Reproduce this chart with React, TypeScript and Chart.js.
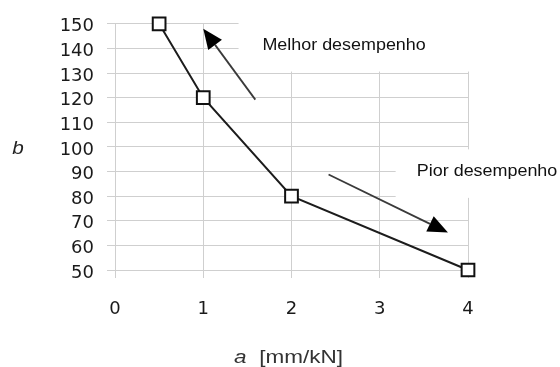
import React, { useEffect, useRef } from 'react';
import { Chart, registerables } from 'chart.js';

Chart.register(...registerables);

// ---- data ----
const xValues = [0.5, 1, 2, 4];
const yValues = [150, 120, 80, 50];
const xMin = 0;
const xMax = 4;
const xStep = 1;
const yMin = 50;
const yMax = 150;
const yStep = 10;

const yTitle = 'b';
const xTitleVar = 'a';
const xTitleUnit = '  [mm/kN]';
const labelBetter = 'Melhor desempenho';
const labelWorse = 'Pior desempenho';

// annotation anchors in data units
const arrowBetter = { from: [1.59, 119.2], to: [1.0, 148] };
const arrowWorse = { from: [2.42, 88.8], to: [3.773, 65.2] };
const textBetterAt = [1.67, 139.2];
const textWorseAt = [3.42, 88];
const boxBetter = { x0: 1.4, yTop: null as number | null, yBottom: 130.6 };
const boxWorse = { x0: 3.18, yTop: 99 as number | null, yBottom: 79.3 };

const annotPlugin = {
  id: 'annot',
  beforeDatasetsDraw(chart: any) {
    const { ctx, width } = chart;
    const xs = chart.scales.x;
    const ys = chart.scales.y;
    ctx.save();
    ctx.fillStyle = '#ffffff';
    for (const b of [boxBetter, boxWorse]) {
      const left = xs.getPixelForValue(b.x0);
      const top = b.yTop == null ? 0 : ys.getPixelForValue(b.yTop);
      const bottom = ys.getPixelForValue(b.yBottom);
      ctx.fillRect(left, top, width - left, bottom - top);
    }
    ctx.restore();
  },
  afterDatasetsDraw(chart: any) {
    const { ctx } = chart;
    const xs = chart.scales.x;
    const ys = chart.scales.y;
    const px = (v: number) => xs.getPixelForValue(v);
    const py = (v: number) => ys.getPixelForValue(v);

    const drawArrow = (a: { from: number[]; to: number[] }) => {
      const x1 = px(a.from[0]);
      const y1 = py(a.from[1]);
      const x2 = px(a.to[0]);
      const y2 = py(a.to[1]);
      const ang = Math.atan2(y2 - y1, x2 - x1);
      const len = 20;
      const hw = 8.5;
      const bx = x2 - len * Math.cos(ang);
      const by = y2 - len * Math.sin(ang);
      ctx.save();
      ctx.strokeStyle = '#3a3a3a';
      ctx.lineWidth = 1.8;
      ctx.beginPath();
      ctx.moveTo(x1, y1);
      ctx.lineTo(bx, by);
      ctx.stroke();
      ctx.fillStyle = '#000000';
      ctx.beginPath();
      ctx.moveTo(x2, y2);
      ctx.lineTo(bx + hw * Math.sin(ang), by - hw * Math.cos(ang));
      ctx.lineTo(bx - hw * Math.sin(ang), by + hw * Math.cos(ang));
      ctx.closePath();
      ctx.fill();
      ctx.restore();
    };
    drawArrow(arrowBetter);
    drawArrow(arrowWorse);

    const drawText = (t: string, x: number, y: number, font: string, sx: number) => {
      ctx.save();
      ctx.font = font;
      ctx.fillStyle = '#111111';
      ctx.textBaseline = 'alphabetic';
      ctx.textAlign = 'left';
      ctx.translate(x, y);
      ctx.scale(sx, 1);
      ctx.fillText(t, 0, 0);
      ctx.restore();
    };
    const annFont = '16px "Liberation Sans", Arial, sans-serif';
    drawText(labelBetter, px(textBetterAt[0]), py(textBetterAt[1]), annFont, 1.12);
    drawText(labelWorse, px(textWorseAt[0]), py(textWorseAt[1]), annFont, 1.12);

    // axis titles
    ctx.save();
    ctx.fillStyle = '#222222';
    ctx.textBaseline = 'middle';
    ctx.textAlign = 'center';
    ctx.font = 'italic 18px "Liberation Sans", Arial, sans-serif';
    ctx.translate(18, (chart.chartArea.top + chart.chartArea.bottom) / 2 + 2);
    ctx.scale(1.15, 1);
    ctx.fillText(yTitle, 0, 0);
    ctx.restore();

    ctx.save();
    ctx.fillStyle = '#333333';
    ctx.textBaseline = 'alphabetic';
    ctx.textAlign = 'left';
    const italicFont = 'italic 18px "Liberation Sans", Arial, sans-serif';
    const normalFont = '18px "Liberation Sans", Arial, sans-serif';
    ctx.font = italicFont;
    const w1 = ctx.measureText(xTitleVar).width;
    ctx.font = normalFont;
    const w2 = ctx.measureText(xTitleUnit).width;
    const sx = 1.25;
    const cx = (chart.chartArea.left + chart.chartArea.right) / 2;
    ctx.translate(cx - ((w1 + w2) * sx) / 2 - 3, chart.height - 4);
    ctx.scale(sx, 1);
    ctx.font = italicFont;
    ctx.fillText(xTitleVar, 0, 0);
    ctx.font = normalFont;
    ctx.fillText(xTitleUnit, w1, 0);
    ctx.restore();
  },
};

export default function App() {
  const canvasRef = useRef<HTMLCanvasElement | null>(null);

  useEffect(() => {
    document.body.style.margin = '0';
    const canvas = canvasRef.current;
    if (!canvas) return;
    const tickFont = { family: '"DejaVu Sans", sans-serif', size: 18 };
    const chart = new Chart(canvas, {
      type: 'line',
      data: {
        datasets: [
          {
            data: xValues.map((x, i) => ({ x, y: yValues[i] })),
            borderColor: '#1c1c1c',
            borderWidth: 2,
            tension: 0,
            pointStyle: 'rect',
            pointRadius: 9,
            pointBackgroundColor: '#ffffff',
            pointBorderColor: '#111111',
            pointBorderWidth: 2,
            clip: false as any,
          },
        ],
      },
      options: {
        responsive: false,
        animation: false,
        layout: { padding: { top: 20, right: 92, left: 0, bottom: 0 } },
        plugins: {
          legend: { display: false },
          tooltip: { enabled: false },
        },
        scales: {
          x: {
            type: 'linear',
            min: xMin,
            max: xMax,
            ticks: {
              stepSize: xStep,
              color: '#1a1a1a',
              font: tickFont,
              padding: 21,
            },
            grid: { color: '#cfcfcf', lineWidth: 1, tickLength: 8 },
            border: { display: false },
            afterFit: (s: any) => {
              s.height = 97;
            },
          },
          y: {
            type: 'linear',
            min: yMin,
            max: yMax,
            ticks: {
              stepSize: yStep,
              color: '#1a1a1a',
              font: tickFont,
              padding: 13,
              labelOffset: 3,
            },
            grid: { color: '#cfcfcf', lineWidth: 1, tickLength: 8 },
            border: { display: false },
            afterFit: (s: any) => {
              s.width = 115;
            },
          },
        },
      },
      plugins: [annotPlugin],
    });
    return () => chart.destroy();
  }, []);

  return (
    <div style={{ width: 560, height: 367 }}>
      <canvas ref={canvasRef} width={560} height={367} />
    </div>
  );
}
